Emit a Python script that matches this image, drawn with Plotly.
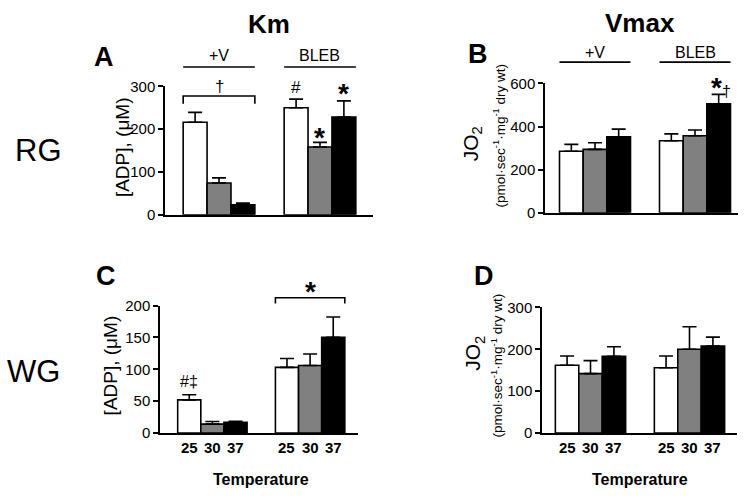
import plotly.graph_objects as go

# ---------------- data ----------------
conditions = ["+V", "BLEB"]
temps = ["25", "30", "37"]
bar_colors = ["#ffffff", "#808080", "#000000"]

# Panel A: Km, RG  ([ADP], uM)
km_rg_mean = {"25": [216, 250], "30": [74, 158], "37": [23, 228]}
km_rg_sem = {"25": [23, 20], "30": [12, 11], "37": [4, 38]}
# Panel B: Vmax, RG (JO2)
vmax_rg_mean = {"25": [285, 334], "30": [294, 357], "37": [352, 505]}
vmax_rg_sem = {"25": [32, 32], "30": [31, 27], "37": [36, 44]}
# Panel C: Km, WG
km_wg_mean = {"25": [52, 103], "30": [14, 106], "37": [17, 150]}
km_wg_sem = {"25": [8, 14], "30": [4, 18], "37": [1.5, 32]}
# Panel D: Vmax, WG
vmax_wg_mean = {"25": [162, 156], "30": [142, 200], "37": [183, 208]}
vmax_wg_sem = {"25": [22, 28], "30": [31, 54], "37": [23, 21]}

W, H = 750, 498
FONT = "Arial, Liberation Sans, sans-serif"


def px(x):
    return x / W


def py(y):
    return 1 - y / H


# panel geometry (pixels): x0, x1 of plot area, y of zero line, y of top tick,
# x range in category units
panels = [
    dict(name="A", mean=km_rg_mean, sem=km_rg_sem, x0=165, x1=373, y0=213, y1=80,
         yr=[0, 300], dtick=100, xr=[-0.535, 1.525]),
    dict(name="B", mean=vmax_rg_mean, sem=vmax_rg_sem, x0=545, x1=738, y0=211, y1=77,
         yr=[0, 600], dtick=200, xr=[-0.5, 1.43]),
    dict(name="C", mean=km_wg_mean, sem=km_wg_sem, x0=160, x1=358, y0=439, y1=307,
         yr=[0, 200], dtick=50, xr=[-0.536, 1.49]),
    dict(name="D", mean=vmax_wg_mean, sem=vmax_wg_sem, x0=542, x1=737, y0=439, y1=309,
         yr=[0, 300], dtick=100, xr=[-0.49, 1.48]),
]

fig = go.Figure()
layout = dict(
    width=W, height=H,
    margin=dict(l=0, r=0, t=0, b=0),
    paper_bgcolor="white", plot_bgcolor="white",
    barmode="group", bargap=0.29, bargroupgap=0,
    showlegend=False,
    font=dict(family=FONT, color="black"),
)

BARGAP = 0.29
bw = (1 - BARGAP) / 3  # bar width in category units

for i, p in enumerate(panels):
    n = "" if i == 0 else str(i + 1)
    xa, ya = "x" + n, "y" + n
    for t, col in zip(temps, bar_colors):
        fig.add_trace(go.Bar(
            x=conditions, y=p["mean"][t], name=t + " °C",
            xaxis=xa, yaxis=ya,
            marker=dict(color=col, line=dict(color="black", width=1.6)),
            error_y=dict(type="data", array=p["sem"][t], arrayminus=[0, 0],
                         symmetric=False, color="black", thickness=1.6, width=7),
        ))
    layout["xaxis" + n] = dict(
        domain=[px(p["x0"]), px(p["x1"])], anchor=ya, range=p["xr"],
        showline=True, linecolor="black", linewidth=1.5,
        showticklabels=False, ticks="", showgrid=False, zeroline=False,
        fixedrange=True,
    )
    layout["yaxis" + n] = dict(
        domain=[py(p["y0"]), py(p["y1"])], anchor=xa, range=p["yr"],
        dtick=p["dtick"], showline=True, linecolor="black", linewidth=1.5,
        ticks="outside", ticklen=5, tickwidth=1.5, tickcolor="black",
        tickfont=dict(size=15, family=FONT), showgrid=False, zeroline=False,
        fixedrange=True,
    )

fig.update_layout(**layout)

ann = []
shapes = []


def text(x, y, s, size, bold=False, xref="paper", angle=0):
    ann.append(dict(
        x=x, y=py(y), xref=xref, yref="paper", text=("<b>%s</b>" % s) if bold else s,
        showarrow=False, xanchor="center", yanchor="middle", textangle=angle,
        font=dict(size=size, family=FONT, color="black"),
    ))


def hline(xa, xl, xr, y):
    shapes.append(dict(type="line", xref=xa, yref="paper", x0=xl, x1=xr,
                       y0=py(y), y1=py(y), line=dict(color="black", width=1.6)))


def bracket(xa, xl, xr, ytop, ybot):
    shapes.append(dict(type="path", xref=xa, yref="paper",
                       path="M %f,%f L %f,%f L %f,%f L %f,%f" % (
                           xl, py(ybot), xl, py(ytop), xr, py(ytop), xr, py(ybot)),
                       line=dict(color="black", width=1.6)))


# column titles and panel letters
text(px(269), 16, "Km", 26, True)
text(px(640), 15, "Vmax", 26, True)
text(px(104), 50, "A", 27, True)
text(px(478), 47, "B", 27, True)
text(px(106), 276, "C", 27, True)
text(px(484), 276, "D", 27, True)
# row labels
text(px(38), 147, "RG", 31)
text(px(33), 375, "WG", 31)

# y axis titles
text(px(122), 143, "[ADP], (μM)", 19, angle=-90)
text(px(110), 369, "[ADP], (μM)", 19, angle=-90)
text(px(472), 140, "JO<sub>2</sub>", 21, angle=-90)
text(px(499), 131, "(pmol·sec<sup>-1</sup>·mg<sup>-1</sup> dry wt)", 13.5, angle=-90)
text(px(474), 357, "JO<sub>2</sub>", 21, angle=-90)
text(px(497), 369, "(pmol·sec<sup>-1</sup>·mg<sup>-1</sup> dry wt)", 13.5, angle=-90)

# condition headers (top row)
for xa, ytxt, yln in (("x", 48, 60), ("x2", 45, 55)):
    for k, c in enumerate(conditions):
        text(k, ytxt, c, 16, xref=xa)
        hline(xa, k - 1.5 * bw, k + 1.5 * bw, yln)

# Panel A marks
bracket("x", -1.5 * bw, 1.5 * bw, 90, 98)
text(0, 80, "†", 17, xref="x")
text(1 - bw, 81, "#", 17, xref="x")
text(1, 133, "*", 28, True, xref="x")
text(1 + bw, 87, "*", 28, True, xref="x")
# Panel B marks
text(1 + bw + 0.02, 81, "*<span style='font-size:16px;font-weight:normal'>†</span>", 28, True, xref="x2")
# Panel C marks
bracket("x3", 1 - 1.5 * bw, 1 + 1.5 * bw, 299, 305)
text(1, 292, "*", 28, True, xref="x3")
text(-bw, 386, "#‡", 16, xref="x3")

# temperature tick labels and axis titles (bottom row)
for xa, xmid in (("x3", px(261)), ("x4", px(640))):
    for k in range(len(conditions)):
        for j, t in enumerate(temps):
            text(k + (j - 1) * bw, 454, t, 15, True, xref=xa)
    text(xmid, 487, "Temperature", 16, True)

fig.update_layout(annotations=ann, shapes=shapes)
fig.write_html("out.html", config={"displayModeBar": False},
               post_script="document.body.style.margin='0';")
